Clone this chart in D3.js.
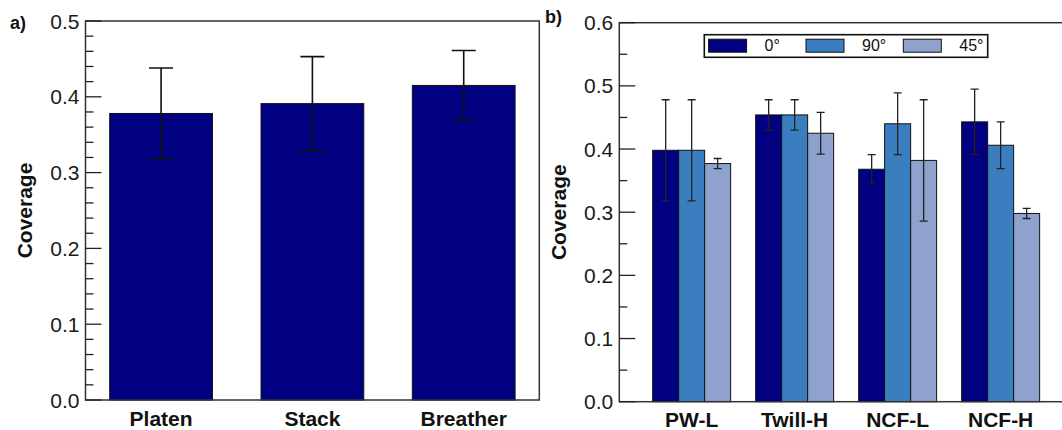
<!DOCTYPE html>
<html>
<head>
<meta charset="utf-8">
<script src="https://cdn.jsdelivr.net/npm/d3@7"></script>
<style>
  body { margin: 0; background: #fff; }
  svg { display: block; font-family: "Liberation Sans", Arial, sans-serif; }
</style>
</head>
<body>
<svg width="1062" height="430"></svg>
<script>
// panel a data
const catsA = ['Platen', 'Stack', 'Breather']
const valsA = [0.378, 0.391, 0.415]
const errA = [0.060, 0.062, 0.046]
const ticksA = [0, 0.1, 0.2, 0.3, 0.4, 0.5]

// panel b data
const catsB = ['PW-L', 'Twill-H', 'NCF-L', 'NCF-H']
const seriesB = ['0°', '90°', '45°']
const vals0 = [0.398, 0.454, 0.368, 0.443]
const err0 = [0.080, 0.024, 0.023, 0.052]
const vals90 = [0.398, 0.454, 0.440, 0.406]
const err90 = [0.080, 0.024, 0.049, 0.037]
const vals45 = [0.377, 0.425, 0.382, 0.298]
const err45 = [0.008, 0.033, 0.096, 0.008]
const ticksB = [0, 0.1, 0.2, 0.3, 0.4, 0.5, 0.6]

const colors = ['#000080', '#3b7ebf', '#8ea2cd']

let svg = d3.select('svg')

// left axis with inward ticks, major + minor
function leftAxis(g, y, x0, major, minor) {
    g.selectAll('.minor').data(minor).enter().append('line')
        .attr('x1', x0).attr('x2', x0 + 8)
        .attr('y1', d => y(d)).attr('y2', d => y(d))
        .attr('stroke', '#222').attr('stroke-width', 1.3)
    g.selectAll('.major').data(major).enter().append('line')
        .attr('x1', x0).attr('x2', x0 + 16)
        .attr('y1', d => y(d)).attr('y2', d => y(d))
        .attr('stroke', '#222').attr('stroke-width', 1.3)
    g.selectAll('.lbl').data(major).enter().append('text')
        .attr('x', x0 - 6)
        .attr('y', d => y(d))
        .attr('dy', '0.36em')
        .attr('text-anchor', 'end')
        .attr('font-size', 21)
        .attr('fill', '#1a1a1a')
        .text(d3.format('.1f'))
}

//----- panel a -----
let a = {left: 85.5, right: 539.3, top: 21, bottom: 400}
let xA = d3.scaleBand().domain(catsA).range([a.left, a.right]).paddingInner(0.321).paddingOuter(0.16)
let yA = d3.scaleLinear().domain([0, 0.5]).range([a.bottom, a.top])
let gA = svg.append('g')

gA.selectAll('rect.bar')
    .data(catsA)
    .enter()
    .append('rect')
    .attr('x', d => xA(d))
    .attr('y', (d, i) => yA(valsA[i]))
    .attr('width', xA.bandwidth())
    .attr('height', (d, i) => yA(0) - yA(valsA[i]))
    .attr('fill', colors[0])
    .attr('stroke', '#111')
    .attr('stroke-width', 1)

catsA.forEach((c, i) => {
    let cx = xA(c) + xA.bandwidth() / 2
    let hi = yA(valsA[i] + errA[i]), lo = yA(valsA[i] - errA[i])
    gA.append('path')
        .attr('d', `M${cx},${hi}V${lo}M${cx - 12},${hi}H${cx + 12}M${cx - 12},${lo}H${cx + 12}`)
        .attr('stroke', '#111').attr('stroke-width', 1.6).attr('fill', 'none')
})

gA.append('rect')
    .attr('x', a.left).attr('y', a.top)
    .attr('width', a.right - a.left).attr('height', a.bottom - a.top)
    .attr('fill', 'none').attr('stroke', '#333').attr('stroke-width', 1.5)

leftAxis(gA, yA, a.left, ticksA, d3.range(0.02, 0.5, 0.02).filter(v => Math.abs(v * 10 - Math.round(v * 10)) > 0.01))

gA.selectAll('text.cat')
    .data(catsA)
    .enter()
    .append('text')
    .attr('x', d => xA(d) + xA.bandwidth() / 2)
    .attr('y', 426)
    .attr('text-anchor', 'middle')
    .attr('font-size', 21)
    .attr('font-weight', 'bold')
    .attr('fill', '#111')
    .text(d => d)

gA.append('text')
    .attr('transform', 'translate(32,' + ((a.top + a.bottom) / 2) + ') rotate(-90)')
    .attr('text-anchor', 'middle')
    .attr('font-size', 21)
    .attr('font-weight', 'bold')
    .attr('fill', '#111')
    .text('Coverage')

gA.append('text')
    .attr('x', 10).attr('y', 29)
    .attr('font-size', 18).attr('font-weight', 'bold').attr('fill', '#111')
    .text('a)')

//----- panel b -----
let b = {left: 619.3, right: 1073, top: 22.7, bottom: 401.7}
let xB = d3.scaleBand().domain(catsB).range([b.left, b.right]).paddingInner(0.243).paddingOuter(0.324)
let xSub = d3.scaleBand().domain(seriesB).range([0, xB.bandwidth()])
let yB = d3.scaleLinear().domain([0, 0.6]).range([b.bottom, b.top])
let gB = svg.append('g')

let valsB = [vals0, vals90, vals45]
let errB = [err0, err90, err45]

seriesB.forEach((s, j) => {
    gB.selectAll('rect.s' + j)
        .data(catsB)
        .enter()
        .append('rect')
        .attr('x', d => xB(d) + xSub(s))
        .attr('y', (d, i) => yB(valsB[j][i]))
        .attr('width', xSub.bandwidth())
        .attr('height', (d, i) => yB(0) - yB(valsB[j][i]))
        .attr('fill', colors[j])
        .attr('stroke', '#111')
        .attr('stroke-width', 1)
})

seriesB.forEach((s, j) => {
    catsB.forEach((c, i) => {
        let cx = xB(c) + xSub(s) + xSub.bandwidth() / 2
        let hi = yB(valsB[j][i] + errB[j][i]), lo = yB(valsB[j][i] - errB[j][i])
        gB.append('path')
            .attr('d', `M${cx},${hi}V${lo}M${cx - 4},${hi}H${cx + 4}M${cx - 4},${lo}H${cx + 4}`)
            .attr('stroke', '#222').attr('stroke-width', 1.3).attr('fill', 'none')
    })
})

// frame: left, top, bottom (right edge falls off the picture)
gB.append('rect')
    .attr('x', b.left).attr('y', b.top)
    .attr('width', b.right - b.left).attr('height', b.bottom - b.top)
    .attr('fill', 'none').attr('stroke', '#333').attr('stroke-width', 1.5)

leftAxis(gB, yB, b.left, ticksB, [0.05, 0.15, 0.25, 0.35, 0.45, 0.55])

gB.selectAll('text.cat')
    .data(catsB)
    .enter()
    .append('text')
    .attr('x', d => xB(d) + xB.bandwidth() / 2)
    .attr('y', 426.5)
    .attr('text-anchor', 'middle')
    .attr('font-size', 21)
    .attr('font-weight', 'bold')
    .attr('fill', '#111')
    .text(d => d)

gB.append('text')
    .attr('transform', 'translate(566,' + ((b.top + b.bottom) / 2) + ') rotate(-90)')
    .attr('text-anchor', 'middle')
    .attr('font-size', 21)
    .attr('font-weight', 'bold')
    .attr('fill', '#111')
    .text('Coverage')

gB.append('text')
    .attr('x', 545).attr('y', 23)
    .attr('font-size', 18).attr('font-weight', 'bold').attr('fill', '#111')
    .text('b)')

// legend
let legend = gB.append('g').attr('transform', 'translate(704.3,34.7)')
legend.append('rect')
    .attr('width', 283.4).attr('height', 22.6)
    .attr('fill', '#fff').attr('stroke', '#111').attr('stroke-width', 1.6)
let legX = [4.3, 101.7, 199]
seriesB.forEach((s, j) => {
    legend.append('rect')
        .attr('x', legX[j]).attr('y', 4.5)
        .attr('width', 38).attr('height', 13)
        .attr('fill', colors[j]).attr('stroke', '#111').attr('stroke-width', 1)
    legend.append('text')
        .attr('x', legX[j] + 56).attr('y', 16.5)
        .attr('font-size', 16).attr('fill', '#111')
        .text(s)
})
</script>
</body>
</html>
